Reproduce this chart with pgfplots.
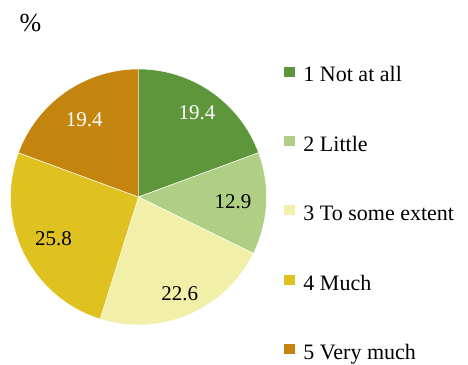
\documentclass[border=0pt]{standalone}
\usepackage{fontspec}
\setmainfont{Liberation Serif}
\usepackage{pgfplots}
\pgfplotsset{compat=1.18}
\usepgfplotslibrary{polar}

\definecolor{c1}{HTML}{5E963C}
\definecolor{c2}{HTML}{AFD084}
\definecolor{c3}{HTML}{F2EFA8}
\definecolor{c4}{HTML}{DFC220}
\definecolor{c5}{HTML}{C4850F}

\newcommand\lbl{\fontsize{21bp}{25bp}\selectfont}
\newcommand\lgd{\fontsize{22bp}{26bp}\selectfont}
\def\pietotal{100.1}
\pgfmathsetmacro\degper{360/\pietotal}

% #1 share before this slice, #2 share, #3 fill, #4 legend text
\newcommand\pieslice[4]{%
  \pgfmathsetmacro\angA{90-(#1+#2)*\degper}%
  \pgfmathsetmacro\angB{90-(#1)*\degper}%
  \edef\next{\noexpand\addplot[fill=#3, draw=white, line width=0.5pt,
    domain=\angA:\angB, samples=91] {1} -- (axis cs:0,0) -- cycle;}%
  \next
  \addlegendentry{#4}%
}
% value label inside a slice: #1 share before, #2 share, #3 colour, #4 radius
\newcommand\pielabel[4]{%
  \pgfmathsetmacro\angM{90-(#1+#2/2)*\degper}%
  \edef\next{\noexpand\node[text=#3, font=\noexpand\lbl]
    at (axis cs:\angM,#4) {#2};}%
  \next
}

\begin{document}
\begin{tikzpicture}
\path[use as bounding box] (0,0) rectangle (468bp,365bp);
\node[font=\fontsize{26bp}{30bp}\selectfont] at (30.5bp,342bp) {\%};
\begin{polaraxis}[
  at={(138.5bp,168bp)}, anchor=center,
  width=256bp, height=256bp, scale only axis,
  hide axis, ymin=0, ymax=1,
  clip=false,
  legend cell align=left,
  legend image code/.code={\fill[#1] (0bp,0bp) rectangle (12bp,11bp);},
  legend style={draw=none, fill=none, font=\lgd,
    at={(1.052,1.022)}, anchor=north west,
    row sep=48.2bp,
    nodes={inner sep=0pt, text height=15bp, text depth=5bp},
    column sep=8bp},
]
\pieslice{0}{19.4}{c1}{1 Not at all}
\pieslice{19.4}{12.9}{c2}{2 Little}
\pieslice{32.3}{22.6}{c3}{3 To some extent}
\pieslice{54.9}{25.8}{c4}{4 Much}
\pieslice{80.7}{19.4}{c5}{5 Very much}
\pielabel{0}{19.4}{white}{0.80}
\pielabel{19.4}{12.9}{black}{0.74}
\pielabel{32.3}{22.6}{black}{0.82}
\pielabel{54.9}{25.8}{black}{0.74}
\pielabel{80.7}{19.4}{white}{0.74}
\end{polaraxis}
\end{tikzpicture}
\end{document}
